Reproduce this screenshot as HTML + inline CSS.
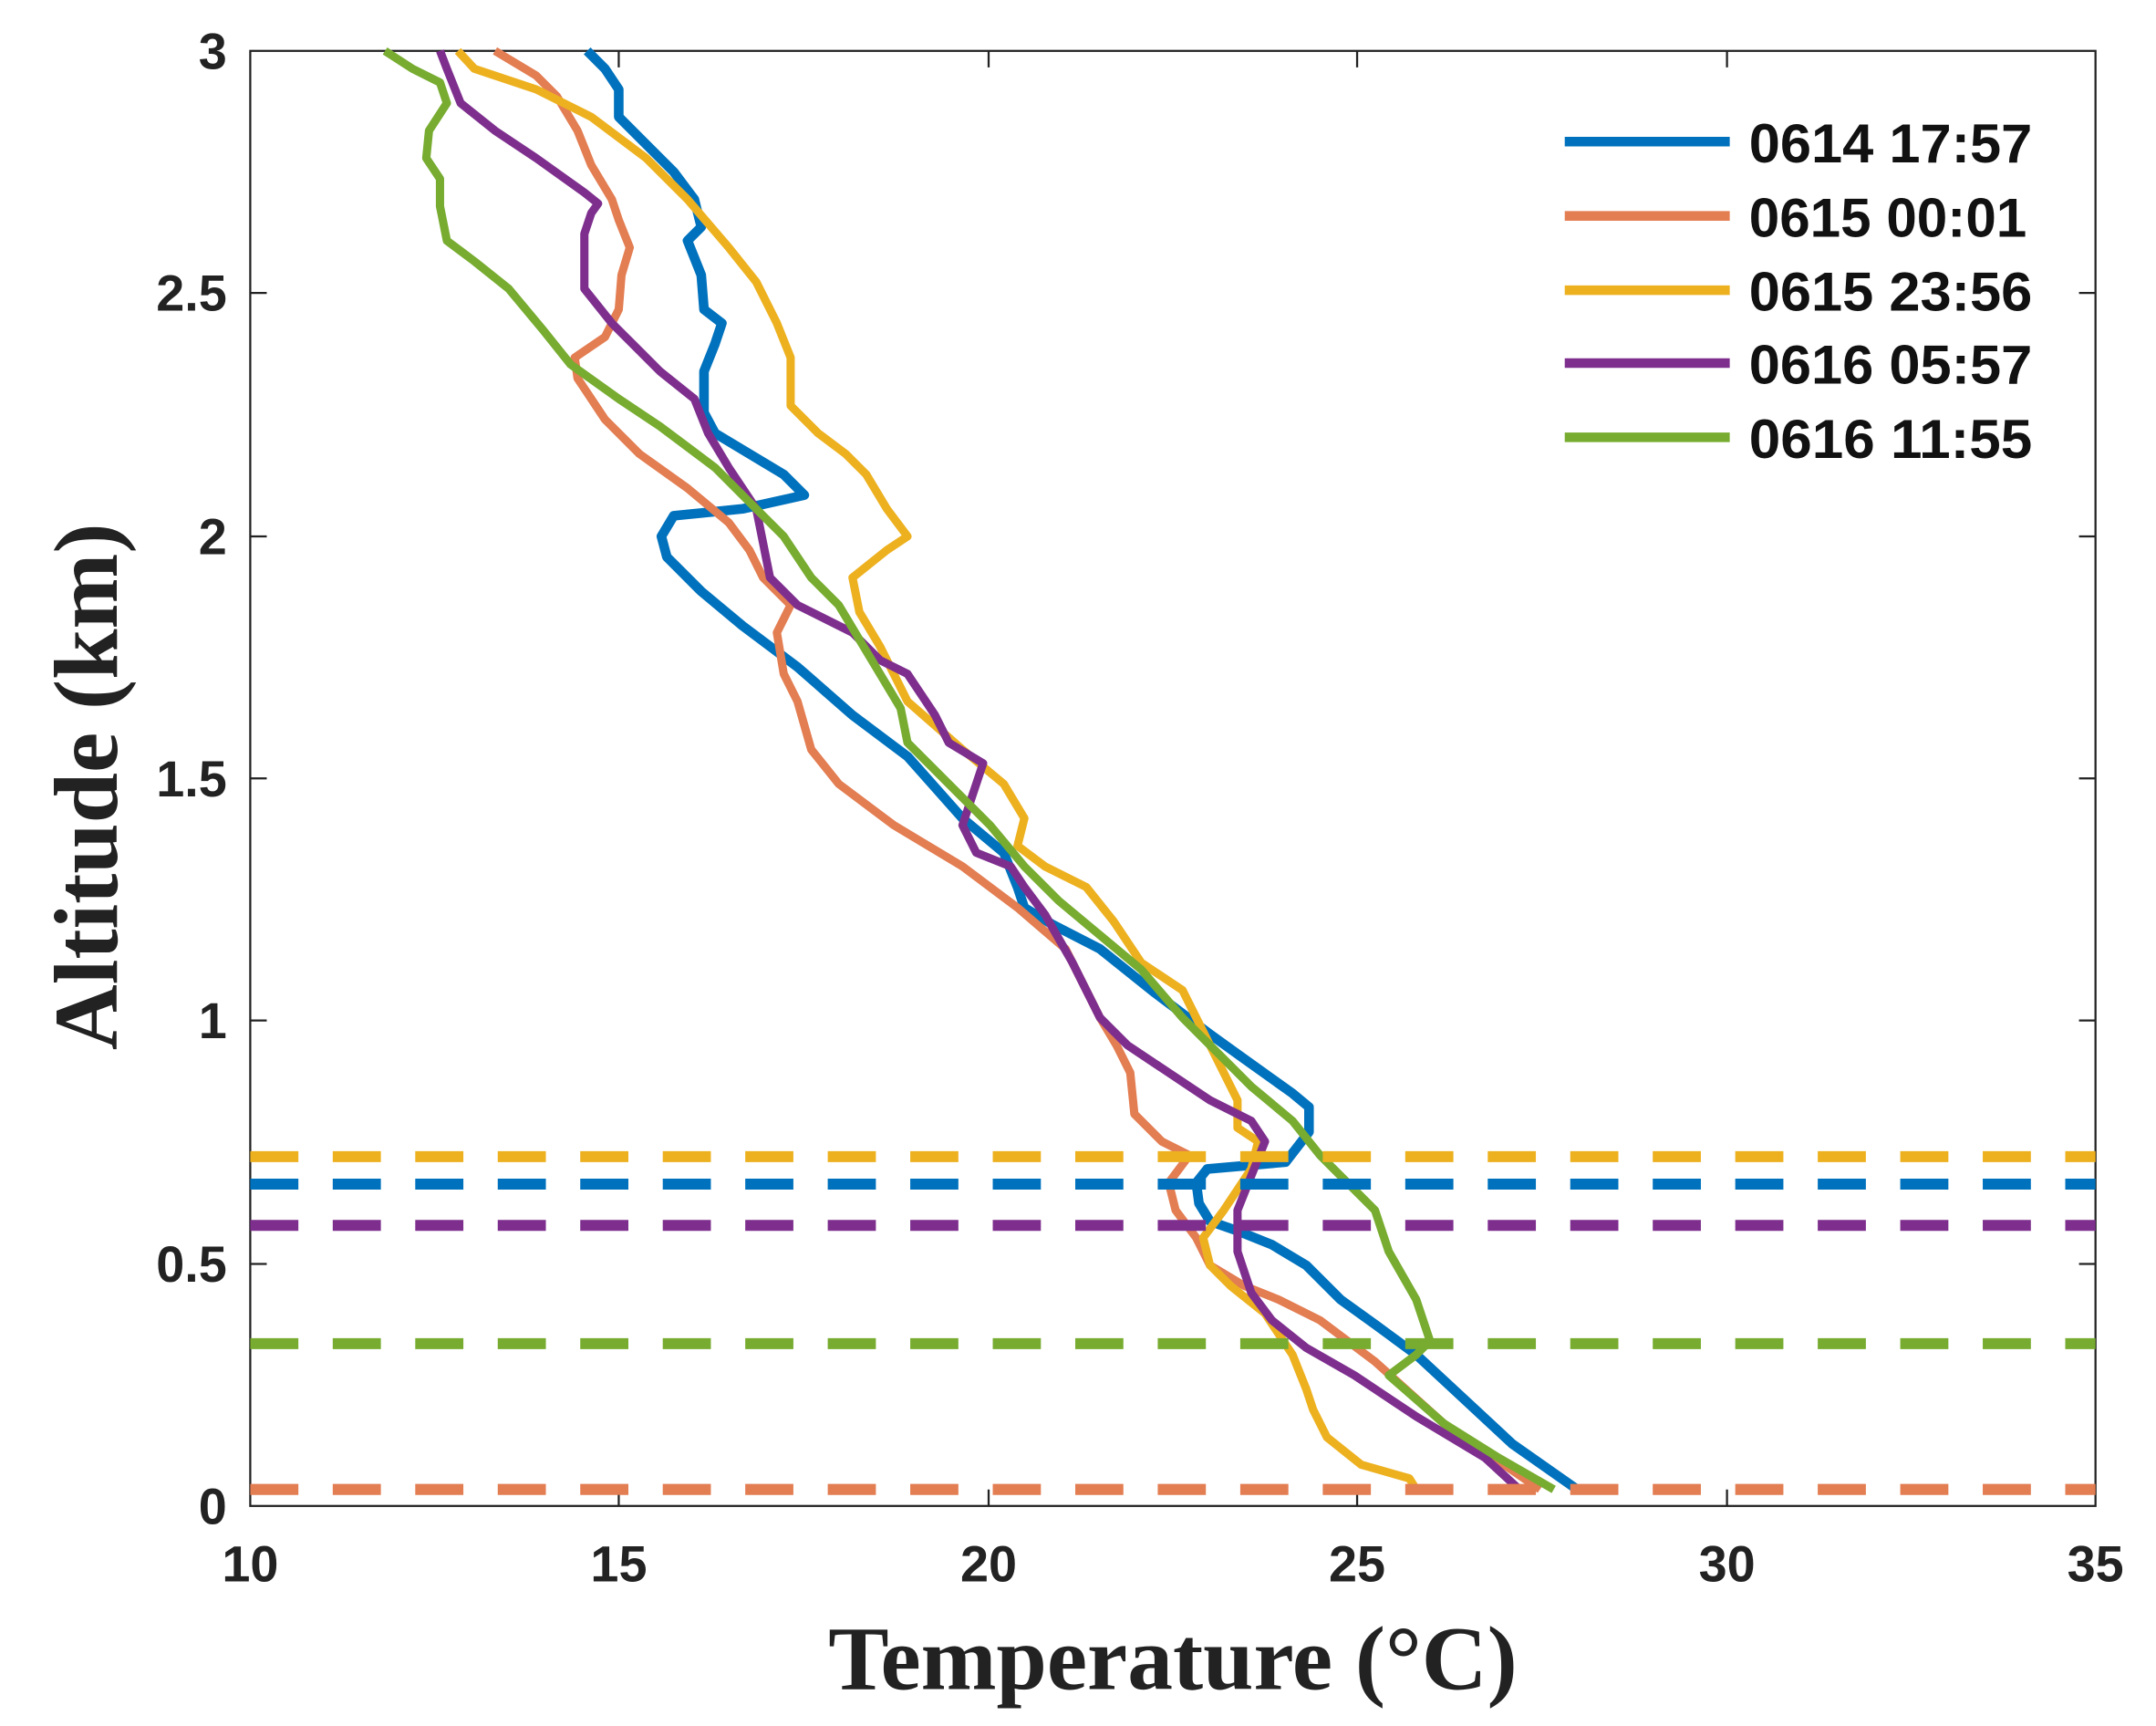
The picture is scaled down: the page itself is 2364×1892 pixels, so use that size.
<!DOCTYPE html>
<html><head><meta charset="utf-8"><style>html,body{margin:0;padding:0;background:#fff}svg{display:block}</style></head>
<body>
<svg width="2364" height="1892" viewBox="0 0 1568 1255" preserveAspectRatio="none" xmlns="http://www.w3.org/2000/svg">
<rect width="1568" height="1255" fill="#fff"/>
<g stroke="#222" stroke-width="1.5" fill="none">
<rect x="182" y="37" width="1342" height="1058"/>
<path d="M450 1095v-12M719 1095v-12M987 1095v-12M1256 1095v-12M450 37v12M719 37v12M987 37v12M1256 37v12M182 919h12M182 742h12M182 566h12M182 390h12M182 213h12M1524 919h-12M1524 742h-12M1524 566h-12M1524 390h-12M1524 213h-12"/>
</g>
<g font-family="Liberation Sans, sans-serif" font-weight="bold" font-size="37" fill="#222">
<g text-anchor="middle"><text x="182" y="1150">10</text><text x="450" y="1150">15</text><text x="719" y="1150">20</text><text x="987" y="1150">25</text><text x="1256" y="1150">30</text><text x="1524" y="1150">35</text></g>
<g text-anchor="end"><text x="165" y="1108">0</text><text x="165" y="932">0.5</text><text x="165" y="755">1</text><text x="165" y="579">1.5</text><text x="165" y="403">2</text><text x="165" y="226">2.5</text><text x="165" y="50">3</text></g>
</g>
<text x="853" y="1228" text-anchor="middle" font-family="Liberation Serif, serif" font-weight="bold" font-size="66" fill="#222">Temperature (°C)</text>
<text transform="translate(85,572) rotate(-90)" text-anchor="middle" font-family="Liberation Serif, serif" font-weight="bold" font-size="66" fill="#222">Altitude (km)</text>
<g fill="none" stroke-linejoin="round">
<polyline stroke="#0072BD" stroke-width="7" points="1147,1083 1100,1050 1030,985 1000,963 975,945 950,920 925,905 900,895 880,888 872,875 870,860 878,850 935,845 952,823 952,805 940,795 905,770 880,752 840,722 800,690 765,672 745,660 740,645 730,620 700,595 660,550 620,520 580,485 540,455 510,430 485,405 481,390 490,375 540,370 585,360 570,345 545,330 520,315 512,300 512,270 520,250 525,235 512,225 510,200 500,175 510,165 505,145 490,125 470,105 450,85 450,65 440,50 427,37"/>
<polyline stroke="#E37D52" stroke-width="6" points="1120,1083 1050,1035 1000,990 960,960 930,945 905,935 880,920 870,900 855,880 850,860 865,840 845,830 825,810 822,780 812,760 800,740 790,720 775,690 740,660 700,630 650,600 610,570 590,545 580,510 570,490 565,460 575,440 555,420 545,400 530,380 500,355 465,330 440,305 420,275 418,260 440,245 450,225 452,200 458,180 450,160 445,145 430,120 420,95 405,70 390,55 360,37"/>
<polyline stroke="#EDB120" stroke-width="6" points="1030,1083 1025,1075 990,1065 965,1045 955,1025 950,1010 940,985 920,955 895,935 880,920 875,900 890,880 910,850 915,830 900,820 900,800 890,780 880,760 860,720 830,700 810,670 790,645 760,630 740,615 745,595 730,570 700,545 660,510 650,490 640,470 625,445 620,420 645,400 660,390 645,370 630,345 615,330 595,315 575,295 575,260 565,235 550,205 530,180 500,145 470,115 430,85 390,65 345,50 333,37"/>
<polyline stroke="#7E2F8E" stroke-width="6" points="1105,1083 1080,1060 1030,1030 985,1000 950,980 925,960 910,940 900,910 900,880 910,855 920,830 910,815 880,800 850,780 820,760 800,740 780,700 760,665 745,645 735,630 710,620 700,600 715,555 690,540 680,520 660,490 640,480 620,460 580,440 560,420 555,395 550,370 540,355 530,340 515,315 505,290 480,270 445,235 425,210 425,170 430,155 435,148 425,140 390,115 360,95 335,75 325,50 320,37"/>
<polyline stroke="#77AC30" stroke-width="6" points="1130,1083 1090,1060 1050,1035 1010,1000 1030,985 1040,975 1030,945 1010,910 1000,880 980,860 960,840 940,815 910,790 890,770 860,740 830,705 800,680 770,655 745,630 720,600 690,570 660,540 655,515 640,490 625,465 610,440 590,420 570,390 545,365 520,340 480,310 450,290 415,265 395,240 370,210 345,190 325,175 320,150 320,130 310,115 312,95 325,75 320,60 300,50 280,37"/>
</g>
<g stroke-width="8" stroke-dasharray="35,25" fill="none">
<line x1="182" x2="1524" y1="841" y2="841" stroke="#EDB120"/>
<line x1="182" x2="1524" y1="861" y2="861" stroke="#0072BD"/>
<line x1="182" x2="1524" y1="891" y2="891" stroke="#7E2F8E"/>
<line x1="182" x2="1524" y1="977" y2="977" stroke="#77AC30"/>
<line x1="182" x2="1524" y1="1083" y2="1083" stroke="#E37D52"/>
</g>
<g stroke-width="7">
<line x1="1138" x2="1258" y1="103" y2="103" stroke="#0072BD"/>
<line x1="1138" x2="1258" y1="157" y2="157" stroke="#E37D52"/>
<line x1="1138" x2="1258" y1="211" y2="211" stroke="#EDB120"/>
<line x1="1138" x2="1258" y1="264" y2="264" stroke="#7E2F8E"/>
<line x1="1138" x2="1258" y1="318" y2="318" stroke="#77AC30"/>
</g>
<g font-family="Liberation Sans, sans-serif" font-weight="bold" font-size="40" fill="#111">
<text x="1272" y="118" textLength="206" lengthAdjust="spacingAndGlyphs">0614 17:57</text>
<text x="1272" y="172" textLength="202" lengthAdjust="spacingAndGlyphs">0615 00:01</text>
<text x="1272" y="226" textLength="206" lengthAdjust="spacingAndGlyphs">0615 23:56</text>
<text x="1272" y="279" textLength="206" lengthAdjust="spacingAndGlyphs">0616 05:57</text>
<text x="1272" y="333" textLength="206" lengthAdjust="spacingAndGlyphs">0616 11:55</text>
</g>
</svg>
</body></html>
